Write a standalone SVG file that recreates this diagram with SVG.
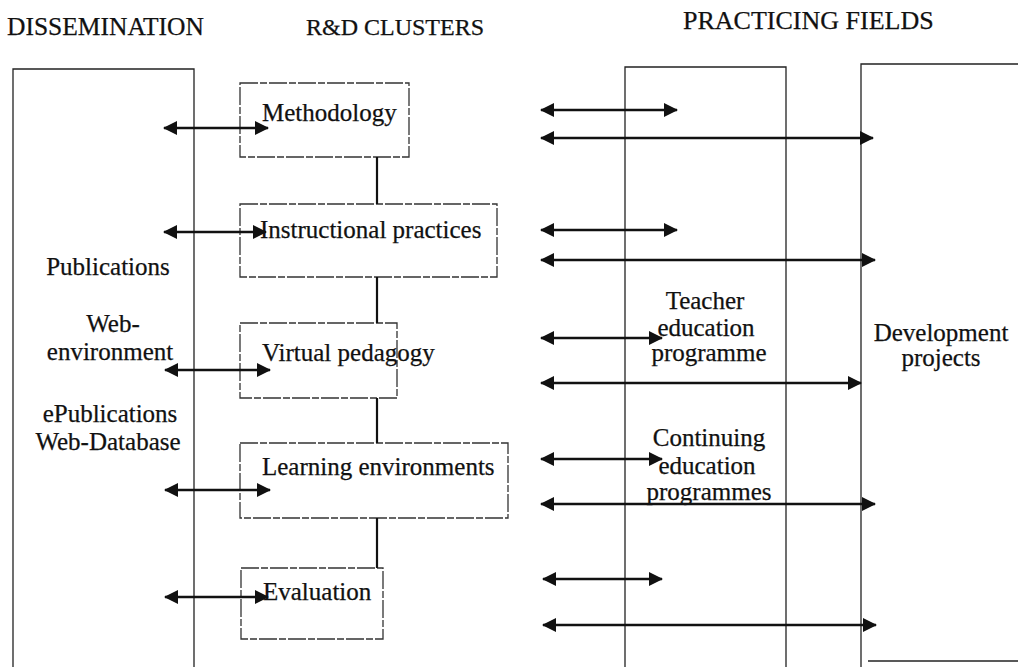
<svg xmlns="http://www.w3.org/2000/svg" width="1018" height="667" viewBox="0 0 1018 667">
  <style>
    .txt { font-family: "Liberation Serif", "Times New Roman", serif; font-size: 25px; fill: #111; stroke: #111; stroke-width: 0.25; }
    .mid { text-anchor: middle; }
    .frame { fill: none; stroke: #222; stroke-width: 1.3; }
    .cluster { fill: none; stroke: #333; stroke-width: 1.3; stroke-dasharray: 18 2 7 2; }
    .link { stroke: #111; stroke-width: 2.2; }
    .arrow { stroke: #111; stroke-width: 2.7; fill: none; marker-start: url(#head); marker-end: url(#head); }
  </style>
  <defs>
    <marker id="head" viewBox="0 0 14 14" refX="13" refY="7" markerUnits="userSpaceOnUse" markerWidth="14" markerHeight="14" orient="auto-start-reverse">
      <path d="M0,0 L14,7 L0,14 z" fill="#111"/>
    </marker>
  </defs>

  <rect width="1018" height="667" fill="#fff"/>

  <!-- column headings -->
  <text class="txt" x="7" y="35" style="font-size:25.5px">DISSEMINATION</text>
  <text class="txt" x="306" y="35" style="font-size:24px">R&amp;D CLUSTERS</text>
  <text class="txt" x="683" y="29" style="font-size:26px">PRACTICING FIELDS</text>

  <!-- dissemination column -->
  <g id="dissemination">
    <path class="frame" d="M13,667 V69 H194 V667"/>
    <text class="txt mid" x="108" y="275">Publications</text>
    <text class="txt mid" x="113" y="332">Web-</text>
    <text class="txt mid" x="110" y="360">environment</text>
    <text class="txt mid" x="110" y="422">ePublications</text>
    <text class="txt mid" x="108" y="450">Web-Database</text>
  </g>

  <!-- R&D clusters -->
  <g id="methodology">
    <rect class="cluster" x="240" y="83" width="169" height="74"/>
    <text class="txt" x="262" y="121">Methodology</text>
  </g>
  <g id="instructional-practices">
    <rect class="cluster" x="240" y="204" width="257" height="73"/>
    <text class="txt" x="260" y="238">Instructional practices</text>
  </g>
  <g id="virtual-pedagogy">
    <rect class="cluster" x="240" y="323" width="157" height="75"/>
    <text class="txt" x="262" y="361">Virtual pedagogy</text>
  </g>
  <g id="learning-environments">
    <rect class="cluster" x="240" y="443" width="268" height="75"/>
    <text class="txt" x="262" y="475">Learning environments</text>
  </g>
  <g id="evaluation">
    <rect class="cluster" x="241" y="568" width="142" height="71"/>
    <text class="txt" x="263" y="600">Evaluation</text>
  </g>

  <!-- practicing fields -->
  <g id="teacher-education">
    <path class="frame" d="M625,667 V67 H786 V667"/>
    <text class="txt mid" x="705" y="309">Teacher</text>
    <text class="txt mid" x="706" y="336">education</text>
    <text class="txt mid" x="709" y="361">programme</text>
    <text class="txt mid" x="709" y="446">Continuing</text>
    <text class="txt mid" x="707" y="474">education</text>
    <text class="txt mid" x="709" y="500">programmes</text>
  </g>
  <g id="development-projects">
    <path class="frame" d="M861,667 V64 H1018"/>
    <line class="frame" x1="868" y1="661" x2="1018" y2="661"/>
    <text class="txt mid" x="941" y="341">Development</text>
    <text class="txt mid" x="941" y="366">projects</text>
  </g>

  <!-- connectors -->
  <g id="connectors">
    <!-- cluster chain -->
    <line class="link" x1="377" y1="157" x2="377" y2="204"/>
    <line class="link" x1="377" y1="277" x2="377" y2="323"/>
    <line class="link" x1="377" y1="398" x2="377" y2="443"/>
    <line class="link" x1="377" y1="518" x2="377" y2="568"/>

    <!-- dissemination links -->
    <line class="arrow" x1="164" y1="128" x2="268" y2="128"/>
    <line class="arrow" x1="164" y1="232" x2="266" y2="232"/>
    <line class="arrow" x1="165" y1="370" x2="270" y2="370"/>
    <line class="arrow" x1="165" y1="490" x2="270" y2="490"/>
    <line class="arrow" x1="165" y1="597" x2="268" y2="597"/>

    <!-- practicing field links -->
    <line class="arrow" x1="541" y1="110" x2="677" y2="110"/>
    <line class="arrow" x1="541" y1="138" x2="873" y2="138"/>
    <line class="arrow" x1="541" y1="230" x2="677" y2="230"/>
    <line class="arrow" x1="541" y1="260" x2="875" y2="260"/>
    <line class="arrow" x1="541" y1="338" x2="662" y2="338"/>
    <line class="arrow" x1="541" y1="383" x2="861" y2="383"/>
    <line class="arrow" x1="541" y1="459" x2="662" y2="459"/>
    <line class="arrow" x1="541" y1="504" x2="875" y2="504"/>
    <line class="arrow" x1="543" y1="579" x2="662" y2="579"/>
    <line class="arrow" x1="543" y1="625" x2="876" y2="625"/>
  </g>
</svg>
